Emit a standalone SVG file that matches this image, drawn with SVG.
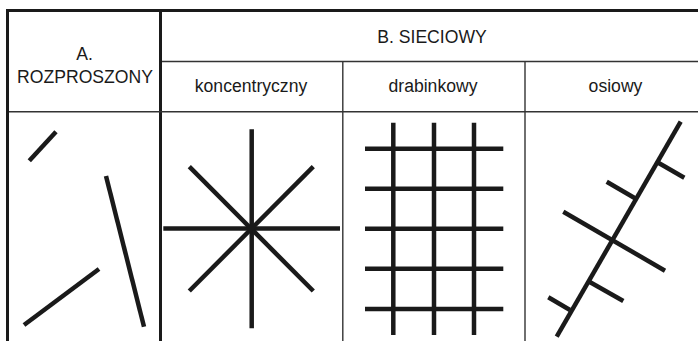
<svg xmlns="http://www.w3.org/2000/svg" width="698" height="341" viewBox="0 0 698 341">
<style>
.thick{stroke:#1a1a1a;stroke-width:3;fill:none}
.thin{stroke:#333;stroke-width:1.4;fill:none}
.lbl{font-family:"Liberation Sans",Arial,sans-serif;font-size:17.6px;fill:#1a1a1a;text-anchor:middle}
.ln{stroke:#1a1a1a;stroke-width:4.5;fill:none;stroke-linecap:butt}
</style>
<rect width="698" height="341" fill="#fff"/>
<g id="table">
<line class="thick" x1="6" y1="10.5" x2="698" y2="10.5"/>
<line class="thick" x1="7.5" y1="9" x2="7.5" y2="341"/>
<line class="thick" x1="160.5" y1="9" x2="160.5" y2="341"/>
<line class="thin" x1="162" y1="61.5" x2="698" y2="61.5"/>
<line class="thin" x1="9" y1="111.7" x2="698" y2="111.7"/>
<line class="thin" x1="342.8" y1="61.5" x2="342.8" y2="341"/>
<line class="thin" x1="525" y1="61.5" x2="525" y2="341"/>
</g>
<g id="labels">
<text class="lbl" x="84.5" y="60">A.</text>
<text class="lbl" x="85" y="82.5">ROZPROSZONY</text>
<text class="lbl" x="432" y="43">B. SIECIOWY</text>
<text class="lbl" x="251" y="92">koncentryczny</text>
<text class="lbl" x="433" y="92">drabinkowy</text>
<text class="lbl" x="615.5" y="92">osiowy</text>
</g>
<g id="rozproszony">
<line class="ln" x1="29.3" y1="160.7" x2="56" y2="131.7"/>
<line class="ln" x1="106" y1="176" x2="144" y2="326.7"/>
<line class="ln" x1="24" y1="325" x2="99" y2="269"/>
</g>
<g id="koncentryczny">
<line class="ln" x1="251.7" y1="129.3" x2="251.7" y2="328.3"/>
<line class="ln" x1="163.3" y1="228.5" x2="340" y2="228.5"/>
<line class="ln" x1="189.3" y1="166.7" x2="313.3" y2="291"/>
<line class="ln" x1="313.3" y1="166.7" x2="189.3" y2="291"/>
</g>
<g id="drabinkowy">
<line class="ln" x1="393.3" y1="122.7" x2="393.3" y2="335"/>
<line class="ln" x1="434" y1="122.7" x2="434" y2="335"/>
<line class="ln" x1="474" y1="122.7" x2="474" y2="335"/>
<line class="ln" x1="365" y1="148.7" x2="503.3" y2="148.7"/>
<line class="ln" x1="365" y1="188.7" x2="503.3" y2="188.7"/>
<line class="ln" x1="365" y1="228.7" x2="503.3" y2="228.7"/>
<line class="ln" x1="365" y1="268.7" x2="503.3" y2="268.7"/>
<line class="ln" x1="365" y1="309" x2="503.3" y2="309"/>
</g>
<g id="osiowy">
<line class="ln" x1="680.7" y1="121.7" x2="556.7" y2="336.7"/>
<line class="ln" x1="658.3" y1="162.7" x2="684.3" y2="177.7"/>
<line class="ln" x1="606.7" y1="181.7" x2="635" y2="198.3"/>
<line class="ln" x1="563.3" y1="211.7" x2="665" y2="270.7"/>
<line class="ln" x1="589.3" y1="281.7" x2="623.3" y2="301"/>
<line class="ln" x1="548.3" y1="297.3" x2="570" y2="310"/>
</g>
</svg>
